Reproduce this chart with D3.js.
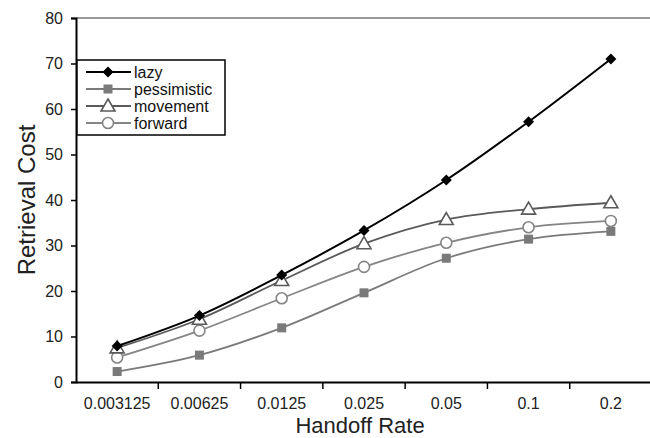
<!DOCTYPE html>
<html>
<head>
<meta charset="utf-8">
<script src="https://cdn.jsdelivr.net/npm/d3@7"></script>
<style>
	body { margin: 0; background: #fff; }
	svg { font-family: 'Liberation Sans', Arial, sans-serif; }
</style>
</head>
<body>
<script>

var rates = ['0.003125', '0.00625', '0.0125', '0.025', '0.05', '0.1', '0.2']
var yTicks = [0, 10, 20, 30, 40, 50, 60, 70, 80]

var lazy = [7.9, 14.6, 23.5, 33.3, 44.4, 57.2, 71]
var pessimistic = [2.3, 5.9, 11.9, 19.6, 27.2, 31.4, 33.1]
var movement = [7.5, 13.8, 22.3, 30.4, 35.7, 38, 39.4]
var forward = [5.4, 11.3, 18.4, 25.3, 30.6, 34, 35.4]

var series = [
	{ name : 'lazy', values : lazy, color : '#000', marker : 'diamond', fill : '#000' },
	{ name : 'pessimistic', values : pessimistic, color : '#7a7a7a', marker : 'square', fill : '#7a7a7a' },
	{ name : 'movement', values : movement, color : '#5a5a5a', marker : 'triangle', fill : '#fff' },
	{ name : 'forward', values : forward, color : '#858585', marker : 'circle', fill : '#fff' }
]

var width = 650
var height = 438
var plotLeft = 76
var plotRight = 652
var plotTop = 18
var plotBottom = 382

var svg = d3.select('body')
	.append('svg')
	.attr('width', width)
	.attr('height', height)

var xScale = d3.scaleBand()
	.domain(rates)
	.range([plotLeft, plotRight])

var yScale = d3.scaleLinear()
	.domain([0, 80])
	.range([plotBottom, plotTop])

// top gridline
svg.append('line')
	.attr('x1', plotLeft).attr('x2', width)
	.attr('y1', yScale(80)).attr('y2', yScale(80))
	.attr('stroke', '#999')
	.attr('stroke-width', 2)

// y axis
var yAxis = svg.append('g')
	.attr('transform', `translate(${plotLeft}, 0)`)
	.call(d3.axisLeft(yScale).tickValues(yTicks).tickSize(5).tickPadding(8))
yAxis.select('.domain').attr('stroke', '#000').attr('stroke-width', 2)
yAxis.selectAll('.tick line').attr('stroke', '#000').attr('stroke-width', 1.5)
yAxis.selectAll('.tick text').attr('font-size', 16).attr('fill', '#222')

// x axis, ticks between categories
var xAxis = svg.append('g')
	.attr('transform', `translate(0, ${plotBottom})`)
	.call(d3.axisBottom(xScale).tickSize(0).tickPadding(16))
xAxis.select('.domain').attr('stroke', '#000').attr('stroke-width', 2)
xAxis.selectAll('.tick text').attr('font-size', 16).attr('fill', '#222')
xAxis.selectAll('.sep')
	.data(rates.slice(1))
	.enter().append('line')
	.attr('x1', d => xScale(d)).attr('x2', d => xScale(d))
	.attr('y1', 0).attr('y2', 7)
	.attr('stroke', '#000')
	.attr('stroke-width', 1.5)

// axis titles
svg.append('text')
	.attr('x', 360)
	.attr('y', 433)
	.attr('text-anchor', 'middle')
	.attr('font-size', 22)
	.attr('fill', '#222')
	.text('Handoff Rate')

svg.append('text')
	.attr('transform', `translate(35, 200) rotate(-90)`)
	.attr('text-anchor', 'middle')
	.attr('font-size', 24)
	.attr('fill', '#222')
	.text('Retrieval Cost')

var cx = d => xScale(d) + xScale.bandwidth() / 2

var line = d3.line()
	.x((d, i) => cx(rates[i]))
	.y(d => yScale(d))
	.curve(d3.curveCatmullRom.alpha(0.5))

function drawMarker(g, s, x, y) {
	if (s.marker === 'diamond')
		g.append('path')
			.attr('d', `M${x},${y - 5.5}L${x + 5.5},${y}L${x},${y + 5.5}L${x - 5.5},${y}Z`)
			.attr('fill', s.fill)
	else if (s.marker === 'square')
		g.append('rect')
			.attr('x', x - 4.5).attr('y', y - 4.5)
			.attr('width', 9).attr('height', 9)
			.attr('fill', s.fill)
	else if (s.marker === 'triangle')
		g.append('path')
			.attr('d', `M${x},${y - 7}L${x + 7},${y + 5}L${x - 7},${y + 5}Z`)
			.attr('fill', s.fill)
			.attr('stroke', s.color)
			.attr('stroke-width', 1.6)
	else
		g.append('circle')
			.attr('cx', x).attr('cy', y).attr('r', 5.5)
			.attr('fill', s.fill)
			.attr('stroke', s.color)
			.attr('stroke-width', 1.6)
}

// draw back to front
var order = [series[1], series[3], series[2], series[0]]
order.forEach(s => {
	var g = svg.append('g')
	g.append('path')
		.datum(s.values)
		.attr('d', line)
		.attr('fill', 'none')
		.attr('stroke', s.color)
		.attr('stroke-width', s.name === 'lazy' ? 2 : 1.8)
	s.values.forEach((v, i) => drawMarker(g, s, cx(rates[i]), yScale(v)))
})

// legend
var legend = svg.append('g')
legend.append('rect')
	.attr('x', 77).attr('y', 60)
	.attr('width', 148).attr('height', 75)
	.attr('fill', '#fff')
	.attr('stroke', '#000')
	.attr('stroke-width', 1.5)

series.forEach((s, i) => {
	var y = 72 + i * 17
	var g = legend.append('g')
	g.append('line')
		.attr('x1', 86).attr('x2', 131)
		.attr('y1', y).attr('y2', y)
		.attr('stroke', s.color)
		.attr('stroke-width', 1.8)
	drawMarker(g, s, 108, y)
	g.append('text')
		.attr('x', 134)
		.attr('y', y + 5.5)
		.attr('font-size', 16)
		.attr('fill', '#111')
		.text(s.name)
})

</script>
</body>
</html>
